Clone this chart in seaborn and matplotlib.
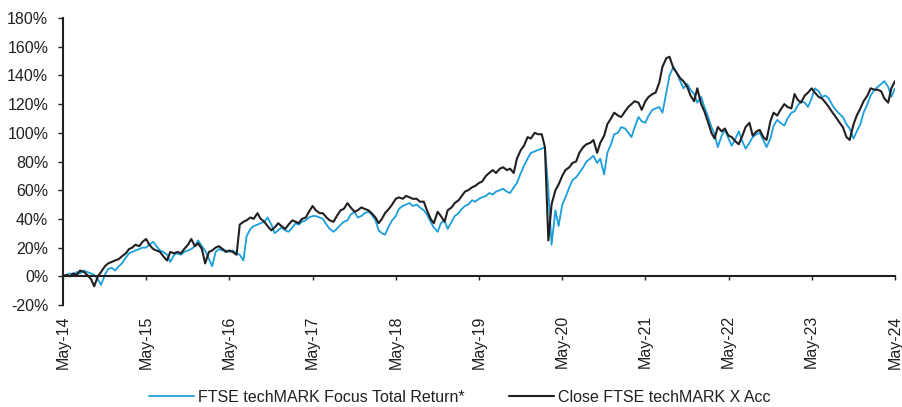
import pandas as pd
import numpy as np
import matplotlib
matplotlib.use("Agg")
import matplotlib.pyplot as plt
import matplotlib.dates as mdates
from matplotlib.ticker import FuncFormatter
import seaborn as sns

# ---- data (semi-monthly readings, % return since May-14) ----
start_date = "2014-05-01"
n_points = 241

focus_tr = [
    0, 1, 2, 1, 3, 2, 4, 3, 2, 1, -2, -6, 1, 5, 6, 4, 7, 9, 13, 16, 17, 18, 19, 20, 20,
    22, 24, 21, 18, 17, 15, 10, 15, 16, 15, 17, 18, 19, 21, 25, 21, 18, 12, 7, 17, 19, 18, 18, 17,
    18, 16, 15, 11, 28, 33, 35, 36, 37, 38, 41, 36, 30, 32, 34, 32, 31, 34, 37, 36, 38, 39, 41, 42,
    42, 41, 40, 36, 33, 31, 33, 36, 38, 39, 43, 45, 41, 42, 44, 45, 43, 39, 32, 30, 29, 35, 39, 42,
    47, 49, 50, 51, 49, 50, 48, 46, 43, 38, 34, 31, 37, 39, 33, 38, 42, 44, 47, 49, 50, 53, 52, 54,
    55, 56, 58, 57, 59, 60, 61, 59, 58, 62, 65, 72, 77, 82, 86, 87, 88, 89, 90, 60, 22, 46, 35, 50,
    55, 62, 67, 69, 72, 76, 80, 82, 84, 79, 82, 71, 86, 92, 99, 100, 104, 103, 100, 97, 104, 111, 108, 107,
    112, 116, 117, 118, 114, 128, 140, 146, 142, 136, 131, 134, 130, 127, 121, 125, 118, 111, 104, 99, 90, 98, 102, 96,
    91, 96, 101, 94, 89, 93, 97, 99, 100, 95, 90, 96, 105, 109, 107, 105, 110, 114, 115, 119, 122, 121, 118, 124,
    131, 129, 125, 126, 124, 119, 116, 113, 111, 106, 103, 96, 101, 106, 114, 120, 126, 130, 132, 134, 136, 132, 125, 131,
]

techmark_x = [
    0, 1, 0, 2, 1, 4, 3, 1, -2, -7, 0, 3, 7, 9, 10, 11, 12, 14, 16, 19, 20, 22, 21, 24, 26,
    22, 19, 18, 17, 14, 11, 17, 16, 17, 16, 19, 22, 26, 21, 23, 19, 9, 17, 18, 20, 21, 19, 17, 18,
    17, 15, 36, 38, 39, 41, 40, 44, 40, 38, 35, 32, 34, 37, 35, 33, 36, 39, 38, 37, 40, 41, 45, 49,
    46, 44, 44, 41, 39, 38, 42, 46, 47, 51, 48, 45, 46, 48, 47, 46, 44, 41, 37, 40, 44, 47, 50, 54,
    55, 54, 56, 55, 54, 54, 52, 52, 46, 40, 37, 45, 42, 38, 46, 48, 51, 53, 56, 59, 60, 62, 63, 65,
    66, 70, 72, 74, 72, 75, 76, 74, 75, 72, 82, 88, 91, 97, 96, 100, 99, 99, 90, 25, 50, 60, 64, 70,
    74, 76, 79, 80, 86, 90, 92, 93, 95, 86, 93, 98, 106, 110, 114, 112, 111, 115, 118, 120, 122, 121, 116, 122,
    125, 127, 128, 135, 146, 152, 153, 145, 142, 138, 136, 132, 126, 122, 131, 120, 115, 107, 100, 96, 104, 101, 103, 98,
    97, 94, 92, 98, 104, 107, 98, 101, 102, 97, 95, 108, 114, 112, 116, 120, 118, 117, 127, 123, 121, 126, 128, 131,
    128, 125, 124, 121, 118, 114, 111, 107, 104, 97, 95, 106, 112, 117, 122, 126, 131, 130, 130, 129, 124, 121, 131, 136,
]

series_names = ["FTSE techMARK Focus Total Return*", "Close FTSE techMARK X Acc"]
series_colors = ["#1a9fdc", "#231f20"]
y_ticks = list(range(-20, 181, 20))

dates = pd.date_range(start_date, periods=n_points, freq="SMS")
df = pd.concat([
    pd.DataFrame({"date": dates, "value": focus_tr, "series": series_names[0]}),
    pd.DataFrame({"date": dates, "value": techmark_x, "series": series_names[1]}),
], ignore_index=True)

# ---- plot ----
sns.set_theme(style="white")
plt.rcParams["font.family"] = ["Liberation Sans", "DejaVu Sans"]
ink = "#231f20"

fig = plt.figure(figsize=(9.03, 4.07), dpi=100)
ax = fig.add_axes([63 / 903, 1 - 305 / 407, (895 - 63) / 903, (305 - 18) / 407])

sns.lineplot(data=df[df.series == series_names[0]], x="date", y="value",
             color=series_colors[0], lw=1.3, ax=ax, label=series_names[0])
sns.lineplot(data=df[df.series == series_names[1]], x="date", y="value",
             color=series_colors[1], lw=1.5, ax=ax, label=series_names[1])

ax.set_xlim(pd.Timestamp("2014-05-01"), pd.Timestamp("2024-05-01"))
ax.set_ylim(-20, 180)
ax.set_yticks(y_ticks)
ax.yaxis.set_major_formatter(FuncFormatter(lambda v, p: f"{int(v)}%"))
ax.xaxis.set_major_locator(mdates.YearLocator(base=1, month=5, day=1))
ax.xaxis.set_major_formatter(mdates.DateFormatter("%b-%y"))
ax.set_xlabel("")
ax.set_ylabel("")

for s in ["top", "right"]:
    ax.spines[s].set_visible(False)
ax.spines["left"].set_color(ink)
ax.spines["left"].set_linewidth(1.5)
ax.spines["bottom"].set_color(ink)
ax.spines["bottom"].set_linewidth(1.5)
ax.spines["bottom"].set_position(("data", 0))

ax.tick_params(axis="y", which="major", direction="out", length=3.6, width=1.0,
               color=ink, labelcolor=ink, labelsize=11.5, pad=7, left=True)
ax.tick_params(axis="x", which="major", direction="out", length=3.0, width=1.0,
               color=ink, labelcolor=ink, labelsize=11.5, pad=25, bottom=True)
for lab in ax.get_xticklabels():
    lab.set_rotation(90)
    lab.set_va("top")
    lab.set_ha("center")

ax.grid(False)
handles, labels = ax.get_legend_handles_labels()
ax.get_legend().remove()
fig.legend(handles, labels, loc="center", bbox_to_anchor=(460 / 903, 1 - 397 / 407),
           ncol=2, frameon=False, fontsize=11.5, handlelength=2.8, handletextpad=0.25,
           columnspacing=2.8, labelcolor=ink)

fig.savefig("out.png", dpi=100)
